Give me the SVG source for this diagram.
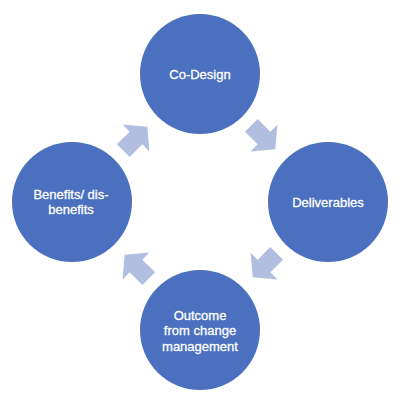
<svg xmlns="http://www.w3.org/2000/svg" width="400" height="407" viewBox="0 0 400 407">
  <defs>
    <style>
      .node circle { fill: #4A70BF; }
      .node text { fill: #FFFFFF; stroke: #FFFFFF; stroke-width: 0.3px; font-family: "Liberation Sans", Arial, sans-serif; font-size: 13px; text-anchor: middle; }
      .arrow { fill: #B1BEDF; }
    </style>
    <path id="arr" d="M-18,-9 L0,-9 L0,-19 L16,0 L0,19 L0,9 L-18,9 Z"/>
  </defs>
  <rect width="400" height="407" fill="#FFFFFF"/>
  <g id="connectors">
    <use href="#arr" class="arrow" transform="translate(264,138) rotate(45)"/>
    <use href="#arr" class="arrow" transform="translate(264,266) rotate(135)"/>
    <use href="#arr" class="arrow" transform="translate(136,266) rotate(225)"/>
    <use href="#arr" class="arrow" transform="translate(136,138) rotate(315)"/>
  </g>
  <g id="node-codesign" class="node">
    <circle cx="200" cy="74" r="60"/>
    <text x="200" y="78.5">Co-Design</text>
  </g>
  <g id="node-deliverables" class="node">
    <circle cx="328" cy="202" r="60"/>
    <text x="328" y="207">Deliverables</text>
  </g>
  <g id="node-outcome" class="node">
    <circle cx="200" cy="330" r="60"/>
    <text x="200" y="319.5">Outcome</text>
    <text x="200" y="335">from change</text>
    <text x="200" y="350.5">management</text>
  </g>
  <g id="node-benefits" class="node">
    <circle cx="72" cy="202" r="60"/>
    <text x="71" y="198.5">Benefits/ dis-</text>
    <text x="71" y="214.2">benefits</text>
  </g>
</svg>
